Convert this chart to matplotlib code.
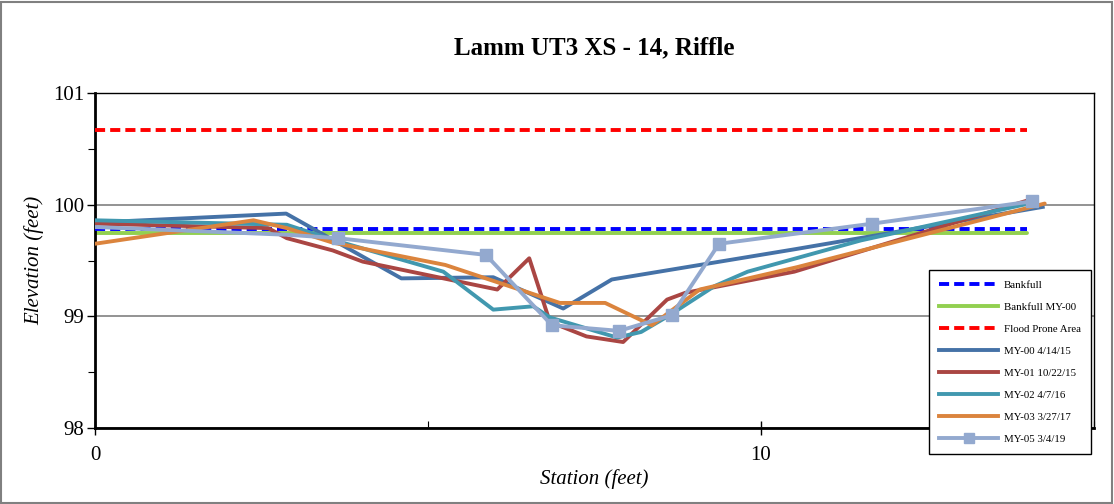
import matplotlib
matplotlib.use('Agg')
import matplotlib.pyplot as plt
from matplotlib.lines import Line2D
from matplotlib.patches import Rectangle
from matplotlib.ticker import MultipleLocator

plt.rcParams['font.family'] = ['Liberation Serif', 'DejaVu Serif']

# reference elevations (feet)
bankfull = 99.78
bankfull_my00 = 99.75
flood_prone = 100.67
ref_x = [0, 14.0]

# survey cross sections: station (ft), elevation (ft)
my00_x = [0, 2.87, 4.6, 5.98, 7.03, 7.76, 10.5, 14.23]
my00_y = [99.84, 99.92, 99.34, 99.35, 99.07, 99.33, 99.6, 99.98]

my01_x = [0, 2.6, 2.88, 3.57, 4.02, 6.04, 6.52, 6.83, 7.38, 7.93, 8.59, 8.86, 10.5, 14.07]
my01_y = [99.83, 99.79, 99.70, 99.59, 99.49, 99.24, 99.52, 98.95, 98.82, 98.77, 99.15, 99.21, 99.4, 100.05]

my02_x = [0, 2.88, 3.6, 5.23, 5.98, 6.58, 6.83, 7.84, 8.2, 8.6, 9.3, 9.8, 11.5, 14.1]
my02_y = [99.86, 99.82, 99.68, 99.40, 99.06, 99.09, 98.99, 98.81, 98.86, 99.0, 99.27, 99.4, 99.68, 100.02]

my03_x = [0, 2.38, 2.88, 3.57, 5.26, 6.98, 7.66, 8.36, 9.08, 10.54, 14.26]
my03_y = [99.65, 99.86, 99.79, 99.66, 99.46, 99.12, 99.12, 98.92, 99.24, 99.44, 100.01]

my05_x = [0, 2.9, 3.65, 5.87, 6.86, 7.87, 8.66, 9.37, 11.67, 14.07]
my05_y = [99.80, 99.73, 99.70, 99.55, 98.92, 98.87, 99.01, 99.65, 99.83, 100.03]

fig = plt.figure(figsize=(11.14, 5.04), dpi=100)
ax = fig.add_axes([95/1114, 1 - 428/504, 999/1114, 335/504])

lw = 2.8
dash = (2.6, 1.3)
ax.plot(ref_x, [bankfull] * 2, color='#0000FF', lw=lw, dashes=dash, zorder=3)
ax.plot(ref_x, [bankfull_my00] * 2, color='#92D050', lw=lw, solid_capstyle='round', zorder=2)
ax.plot(ref_x, [flood_prone] * 2, color='#FF0000', lw=lw, dashes=dash, zorder=3)
ax.plot(my00_x, my00_y, color='#4572A7', lw=lw, zorder=4)
ax.plot(my01_x, my01_y, color='#AA4643', lw=lw, zorder=4)
ax.plot(my02_x, my02_y, color='#4198AF', lw=lw, zorder=4)
ax.plot(my03_x, my03_y, color='#DB843D', lw=lw, solid_capstyle='round', zorder=4)
ax.plot(my05_x, my05_y, color='#93A9CF', lw=lw, marker='s', ms=8,
        markevery=list(range(2, len(my05_x))), zorder=5)

ax.set_xlim(0, 15)
ax.set_ylim(98, 101)
ax.xaxis.set_major_locator(MultipleLocator(10))
ax.xaxis.set_minor_locator(MultipleLocator(5))
ax.yaxis.set_major_locator(MultipleLocator(1))
ax.yaxis.set_minor_locator(MultipleLocator(0.5))
ax.tick_params(axis='x', which='major', direction='inout', length=10, width=1, labelsize=15, pad=8)
ax.tick_params(axis='x', which='minor', direction='in', length=5, width=0.8)
ax.tick_params(axis='y', which='major', direction='out', length=6, width=1, labelsize=15, pad=2)
ax.tick_params(axis='y', which='minor', direction='out', length=5, width=0.8)
ax.grid(axis='y', which='major', color='#808080', lw=1.2)
ax.set_axisbelow(True)

for side in ['left', 'bottom']:
    ax.spines[side].set_linewidth(2)
for side in ['top', 'right']:
    ax.spines[side].set_linewidth(1)

ax.set_title('Lamm UT3 XS - 14, Riffle', fontsize=18, fontweight='bold', pad=28)
ax.set_xlabel('Station (feet)', fontsize=15, style='italic', labelpad=3)
ax.set_ylabel('Elevation (feet)', fontsize=15, style='italic', labelpad=6)

handles = [
    Line2D([], [], color='#0000FF', lw=lw, dashes=dash),
    Line2D([], [], color='#92D050', lw=lw),
    Line2D([], [], color='#FF0000', lw=lw, dashes=dash),
    Line2D([], [], color='#4572A7', lw=lw),
    Line2D([], [], color='#AA4643', lw=lw),
    Line2D([], [], color='#4198AF', lw=lw),
    Line2D([], [], color='#DB843D', lw=lw),
    Line2D([], [], color='#93A9CF', lw=lw, marker='s', ms=7.5),
]
labels = ['Bankfull', 'Bankfull MY-00', 'Flood Prone Area', 'MY-00 4/14/15',
          'MY-01 10/22/15', 'MY-02 4/7/16', 'MY-03 3/27/17', 'MY-05 3/4/19']
leg = ax.legend(handles, labels, loc='upper left', bbox_to_anchor=(0.829, 0.488),
                fontsize=7.8, labelspacing=1.15, handlelength=5.5, handletextpad=0.5,
                borderpad=0.95, fancybox=False, framealpha=1, edgecolor='black')
leg.get_frame().set_linewidth(1)
leg.set_zorder(10)

fig.patches.append(Rectangle((0.001, 0.002), 0.997, 0.995, transform=fig.transFigure,
                             fill=False, edgecolor='#808080', lw=1.5))

fig.savefig('out.png', dpi=100)
